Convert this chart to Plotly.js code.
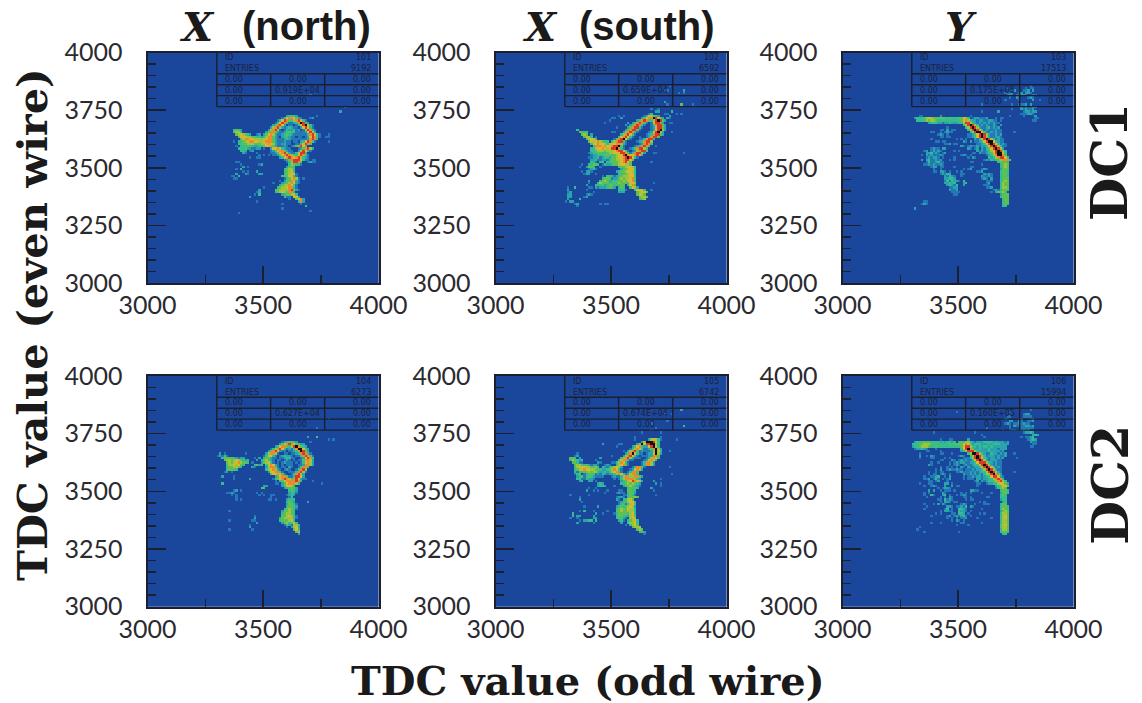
<!DOCTYPE html>
<html><head><meta charset="utf-8">
<script src="https://cdn.plot.ly/plotly-3.0.1.min.js"></script>
<style>html,body{margin:0;padding:0;background:#fff}#c{width:1142px;height:703px}</style>
</head><body><div id="c"></div>
<script>
// Histogram bins: "row col levels" (row counted from top, 10 TDC per bin)
const h101 = [
"18 70 1","23 85 1","25 83 2","27 60 23432","27 73 1",
"28 58 136776421","28 70 12",
"29 56 1368743578631",
"30 55 136873112379842",
"31 54 247862011013689631",
"32 53 2578521232110268631",
"33 37 3432","33 52 257851013223120158731",
"34 37 4553","34 51 2477421123433111126852",
"35 38 4565432","35 47 12","35 50 2467521123432111111378631","35 78 1",
"36 39 46665544332","36 50 3577421023321101101268731","36 77 11",
"37 40 46776655555677421112321111111278730",
"38 37 1","38 39 3345677665567774211121101102368731","38 78 1",
"39 39 33445554445567652112211001136874",
"40 38 1033343322334667421112101247863",
"41 39 33342211220 1","41 53 2667632110001247852",
"42 40 332012","42 53 124677421100258631",
"43 41 21","43 47 1","43 53 1124678521136883",
"44 48 1010101","44 55 124678754368731",
"45 44 1","45 47 11","45 57 2367876785321",
"46 59 12478886311","46 71 11",
"47 38 11","47 60 1358874","47 69 1211",
"48 40 1","48 48 12","48 61 354331",
"49 41 201","49 60 2443",
"50 38 1","50 40 3","50 59 34553",
"51 41 101","51 47 2","51 59 34563",
"52 38 2","52 42 21","52 48 22","52 59 345661",
"53 36 11","53 39 3","53 58 3446631",
"54 37 11","54 59 1346751","54 67 1",
"55 57 1","55 59 2447621",
"56 54 1","56 58 23457621",
"57 57 24557641",
"58 50 1","58 56 345567731",
"59 48 2","59 55 44555578421",
"60 47 12","60 55 345654773",
"61 46 1","61 48 3","61 58 2344563",
"62 44 2","62 59 3110662",
"63 61 1","63 64 4672",
"64 47 1","64 65 372",
"65 58 1","65 66 1",
"66 68 3","67 58 1","68 70 1","69 39 1"
];
const h102 = [
"14 75 1","16 73 11","16 81 2",
"17 79 101",
"21 73 2","22 80 4","22 74 1","22 85 1",
"24 67 1","24 70 1",
"25 69 22","25 76 3",
"26 66 13","26 73 11","26 78 1","26 80 1",
"27 53 1","27 55 1","27 64 1 3 6 5 4 3 2","27 75 2",
"28 50 11","28 54 2","28 63 2 4 6 7 7 9 8 6 4 2","28 74 21",
"29 49 1","29 61 2 4 7 8 7 4 3 5 8 9 8 4 2",
"30 47 1","30 57 2","30 59 2 4 7 8 7 4 1 0 1 6 8 8 4 2","30 75 11",
"31 56 2","31 58 2 4 7 8 7 3 1 0 0 1 3 7 8 8 4 2",
"32 52 1","32 57 2 4 7 8 8 3 1 0 0 0 1 2 6 8 8 4 2",
"33 35 3","33 56 2 4 7 8 8 4 1 0 0 0 0 1 2 6 8 9 5 2",
"34 36 4434","34 50 11","34 55 2 5 7 8 7 3 1 0 0 0 0 1 2 6 8 9 5 2","34 76 1",
"35 37 454","35 41 2","35 54 3 5 7 8 6 3 1 0 0 0 0 1 2 3 7 8 8 4 2",
"36 38 4553","36 43 1","36 53 3 6 7 8 6 3 1 0 0 1 0 0 1 2 7 8 8 4",
"37 39 45664","37 51 1 4 7 8 9 6 3 1 0 0 0 1 1 3 7 8 8 3",
"38 40 465675433","38 50 3 5 7 8 8 4 1 0 0 0 0 1 2 3 7 8 8 5",
"39 41 3667665","39 48 3 5 6 6 7 7 5 2 1 0 0 0 0 0 1 2 7 8 7 3",
"40 42 37776766","40 50 7 8 8 9 4 1 0 0 0 0 1 2 3 7 8 7 4","40 69 1",
"41 41 3 3 5 6 6 7 6 5 6 8 8 9 7 3 1 0 0 1 2 4 7 8 8 5 3",
"42 41 3 3 4 5 5 5 4 5 5 5 6 7 8 8 6 4 1 0 1 2 5 7 8 8 4",
"43 40 1 2 3 3 4 4 3 3 4 5 5 6 6 6 8 8 7 4 1 3 7 8 8 5 2","43 68 11","43 81 1",
"44 41 1 2 2 3 3 3 4 4 4 3 4 5 6 6 8 9 7 6 6 7 8 6 3",
"45 40 1 1 2 2 3 1 2 3 3 2 4 4 5 6 6 7 8 9 8 6 3 1",
"46 41 2 2 3 1 1 2 2 1 3 4 4 5 5 6 7 8 8 6 4",
"47 41 3 3 1 0 3 3 0 3 3 4 4 4 5 6 7 8 6 4","47 67 1",
"48 37 1","48 40 3 3 4 4 3 0 1 3 2 2 3 4 4 5 6 6 5 5 4",
"49 36 1","49 39 2 4 4 3 0 0 1","49 53 3 4 4 5 6 6 5 3",
"50 40 1 2 3 1","50 54 2 4 4 5 6 6 3",
"51 37 1","51 39 2 2 1","51 52 2 3 4 4 5 6 6 5 3",
"52 38 1 2 2 0 0 1","52 53 3 3 4 4 5 6 6 3",
"53 46 1","53 48 3 3 3 1 2 3 4 5 5 5 6 6 3",
"54 46 3 4 4 4 1 2 2 4 5 4 5 5 6 7 4",
"55 40 2","55 45 3 4 5 4 2 3 3 4 4 4 5 4 6 6 7 3",
"56 40 1","56 44 3 5 4 4 4 3 3 4 3 5 4 4 4 3 6 6 5","56 68 1",
"57 39 2","57 43 3 3 3 4 2 3 4 4 3 4 3 4 4 0 3 6 7 4",
"58 31 1","58 34 3","58 40 1 1","58 43 2 1 2 2 2 3 4 4 2 0 3 4 3 0 0 4 6 5 2",
"59 31 2","59 39 1","59 53 3 3 3 1 0 0 0 3 6 6 6 3","59 67 1",
"60 31 1 2","60 42 1","60 53 2 2 2 0 0 0 0 0 4 5 6 6 4",
"61 31 2 2","61 39 1 2 1","61 61 4 6 5 4",
"62 31 2 2","62 38 1 2","62 62 4 5 5 4",
"63 31 2","63 36 3","63 62 3 4 5",
"64 30 1 0 2 2",
"65 35 2","65 45 1 0 1","65 48 1","65 34 1",
"66 35 1"
];
const h103 = [
"14 81 1","15 71 1","15 79 1","15 81 11",
"16 74 2","16 78 112","16 82 2",
"17 70 1 1 1 2","17 76 1 2","17 79 2 2 1",
"18 71 1 2 1","18 75 1 1 2 2 1","18 82 1 1",
"19 72 1","19 75 2 1","19 80 1 2 1",
"20 70 1","20 76 1","20 82 2","20 85 1",
"22 60 1","22 73 1","22 76 1 1 1 2","22 81 2",
"23 77 2 1 2 1 1 2 2",
"24 73 1","24 77 2 1 2 1 1 2",
"25 78 1 2 2 1 2 2","25 60 1","25 67 2",
"26 77 1 1 1 2 2 1",
"27 33 1 1","27 42 2","27 55 1","27 72 1","27 78 1","27 83 2",
"28 31 233345654444443433344 6 5 3","28 56 1 2 2 1 1 1 2","28 66 1","28 68 1 1","28 83 1 1",
"29 32 3333 5 4 5 5 4 3 3 3 3 3 3 3 3 3 3 4 6 7 5 3 2 2 1 2 2 1 1 2 2 1 1 0 1","29 82 1 1",
"30 37 2 3 3 3 2 2 1 2 2 3 2 2 2 3 3 5 8 8 5 3 2 1 2 1 2 1 2 1 2 1 1",
"31 52 3 5 8 9 8 5 3 1 2 1 2 1 1 2 1 0 2",
"32 45 1","32 53 3 5 8 9 8 5 2 1 1 2 3 1 2 1 2",
"33 42 1 1 0 2 0 1 1","33 54 3 5 8 9 8 6 3 1 2 1 1 1 2 1 1",
"34 38 1 1","34 42 1 0 1 2 1 1","34 55 3 5 8 9 9 6 3 1 1 2 1 2 1 1","34 74 1",
"35 41 1 2 1 0 1","35 54 1 1 2 3 6 8 9 8 5 2 1 1 2 1 2",
"36 42 1 1 0 1 1","36 54 1 1 2 3 6 8 9 8 5 2 1 1 2 2 1",
"37 38 1","37 49 1 0 1 0 1","37 57 2 1 3 6 8 9 8 5 3 1 2 1 1",
"38 40 1 1 0 1 1","38 52 2 1 0 2 0 1 1 2 3 6 8 9 9 6 3 2 1 1",
"39 44 1 1 2 0 1 1","39 58 1 1 2 3 6 8 9 8 6 3 1 2 1",
"40 51 2 1 0 1 2 1 1 2 1 2 2 3 6 8 9 8 5 3 1 1",
"41 38 1 2 1 1 0 2 2","41 54 2 1 0 1 2 0 2 1 3 4 6 8 9 8 5 2",
"42 35 1 2 0 1 2 1 2 1","42 48 1 0 1","42 58 2 1 2 1 2 3 5 6 8 9 8 5 3",
"43 36 2 2 3 1 2 1 0 1 2","43 56 1 1 0 2 1 1 2 3 4 6 8 9 9 6 3",
"44 34 1 0 2 1 2 1 1 1 2 1","44 51 1 2 1 0 1","44 62 1 2 3 5 7 9 9 7 4",
"45 36 1 2 1 2 2 1 0 1","45 48 1","45 54 1 0 2 1","45 63 3 2 3 5 7 8 8 6 3",
"46 34 2 0 2 3 1 1 2 1 2","46 46 1 0 1","46 61 1 2 1 3 2 3 4 5 7 7 7 4",
"47 36 1 3 1 1 2 3 1 1","47 55 1 1","47 67 3 4 4 4 3",
"48 35 1 1 2 1 2 1 1 2 1","48 60 1","48 68 3 4 5 4",
"49 38 1 2 2 0 1 1","49 48 1","49 55 1 1","49 68 3 4 5 4",
"50 39 1","50 42 1","50 52 1 0 1 2","50 60 1 2 1","50 68 2 4 4 4",
"51 39 1 1 0 2 2 1 0 1","51 49 1 0 1","51 58 1 1 2","51 68 3 4 4 3",
"52 42 1 2 1 3 2","52 51 1 1","52 61 2 1 2 1","52 68 3 4 4 3",
"53 44 2 1 3 2 1","53 51 1","53 60 2 1 1 2 1","53 68 3 4 4 3",
"54 44 2 2 3 3 2","54 60 1 2 1 0 2","54 68 3 4 4 4",
"55 44 1 3 1 3 2 2 1","55 52 3","55 62 1 1 1","55 68 3 4 5 4",
"56 44 2 2 3 2 3","56 52 2 3","56 62 1 2","56 68 3 5 4 4",
"57 45 2 3 2 1 3","57 52 2","57 61 1 1 1","57 68 3 5 4 4",
"58 46 1 1 2 2","58 62 1 1 2","58 68 3 5 5 4",
"59 46 2 1 1 2","59 65 1 2 1 3 4 4 4",
"60 47 1 1 1 1","60 64 1 0 2 4 4 5 3",
"61 48 1 1","61 68 2 4 4 4",
"62 68 3 4 4 4",
"63 69 3 4 4",
"64 35 1 1","64 69 3 4 4",
"65 34 1 2 1","65 69 3 4 3",
"66 69 3 3",
"67 31 2"
];
const h104 = [
"18 78 1","22 73 1","26 73 4","26 69 2","27 78 1 0 1",
"28 58 1 2 3 4 4 3 2","28 70 1",
"29 57 2 4 6 7 8 7 6 4 3 2 2",
"30 55 2 3 6 7 7 4 3 5 8 9 7 4 3 2",
"31 53 1 3 5 7 8 6 3 1 2 1 3 7 9 9 6 3 2",
"32 52 2 4 7 8 6 2 1 1 0 1 1 2 3 7 9 8 4 2",
"33 31 2 0 1","33 42 1","33 51 2 5 7 7 5 1 0 0 1 1 0 1 1 2 3 7 8 7 3 1",
"34 30 1 2 1 3 1","34 50 1 3 6 6 3 1 0 1 2 3 2 2 1 0 1 1 3 7 8 7 4 1",
"35 32 3 4 4 4 4 3 2 1 2 2","35 46 1","35 48 2","35 50 3 4 4 2 1 1 0 1 1 2 3 3 1 1 0 0 1 2 6 8 7 3",
"36 33 4 5 5 4 5 6 5 4 3 2 3","36 47 2","36 49 3 4 5 3 2 1 0 1 1 0 1 2 1 0 1 0 1 1 4 7 7 5 2",
"37 34 4 5 4 5 6 7 5 4 4 3","37 45 1","37 49 2 4 5 6 3 1 0 1 0 1 2 1 1 1 0 1 0 1 3 6 7 5 2",
"38 34 3 5 5 6 5 6 4 3","38 46 3 4 2 3","38 51 3 6 7 6 2 1 0 1 0 1 1 1 0 0 1 1 2 7 7 5 2",
"39 34 3 4 4 5 5 4 3","39 45 2 1","39 51 2 5 7 7 4 1 0 1 1 0 2 1 0 0 1 3 7 7 4",
"40 34 3 4 4 4 3","40 51 3 5 6 7 5 2 1 0 1 2 1 0 0 1 3 7 8 5",
"41 33 1 2 0 1","41 52 2 6 6 7 7 3 1 0 0 1 1 1 3 7 8 5 1",
"42 53 4 6 6 7 6 4 1 0 0 1 3 7 8 5 2",
"43 32 2","43 37 1","43 55 2 4 6 7 7 4 1 1 3 8 8 6 2",
"44 37 1","44 44 2","44 54 1 3 4 6 7 8 7 5 4 7 8 6 2 1 1",
"45 55 1 0 3 4 6 7 7 7 7 8 7 3","45 71 1",
"46 32 3","46 55 1 1 0 2 4 6 7 7 7 5 3","46 75 1",
"47 50 2 2 0 0 0 0 0 0 2 4 6 6 5 3",
"48 49 4 4","48 59 2 3 4 4 4 2",
"49 37 1 2","49 40 1","49 61 3 4 3 2",
"50 34 1 1 2 1","50 47 1 0 1","50 61 2 3 3 1",
"51 36 1","51 38 1","51 48 1","51 50 1","51 53 1 1","51 60 1 2 3 2",
"52 38 1","52 53 1","52 61 1 3",
"53 38 1","53 40 1","53 52 1 1","53 55 1","53 60 2 3 3 3",
"54 60 3 4 3 2","54 69 2",
"55 60 2 4 4 3 1",
"56 60 3 4 4 3 2",
"57 59 3 4 5 4 3 1",
"58 35 1","58 58 2 4 4 5 4 3",
"59 58 3 4 5 5 4 3",
"60 46 1","60 58 4 4 5 6 5 3 1",
"61 46 2","61 57 2 4 5 5 5 5 3 1",
"62 35 1","62 45 1 1","62 57 3 4 4 4 5 6 3",
"63 47 2","63 58 2 4 5 3 4 6 3",
"64 44 1","64 59 1 3 2 1 5 5 3",
"65 44 2","65 60 1 0 2 5 6 2",
"66 35 1","66 45 1","66 63 4 6 3",
"67 64 4 5",
"68 65 2"
];
const h105 = [
"14 80 2","16 76 1","16 73 1","19 74 1","20 67 1","21 81 3","22 69 1",
"23 67 1","24 63 1","24 71 1","26 71 1","26 60 1",
"27 60 1","27 66 2 5 6 5 3 1","27 78 1",
"28 63 2 5 9 9 9 8 6 3",
"29 46 2","29 53 1 1","29 61 2 5 9 6 8 8 9 9 5 3",
"30 52 1","30 59 2 4 6 7 3 2 2 6 8 9 6 3",
"31 58 1 3 5 7 6 3 1 1 2 4 7 9 5 2",
"32 55 1","32 57 2 5 7 8 4 1 2 1 1 1 2 5 9 6 3","32 75 1",
"33 35 1","33 56 2 4 7 9 6 3 1 1 0 1 2 2 6 9 5 2",
"34 34 1 2","34 50 1","34 55 2 5 7 8 6 3 1 0 1 1 1 2 2 7 7 4",
"35 32 4 4 3","35 36 2","35 45 2","35 54 3 5 7 8 5 2 1 1 1 0 0 1 2 5 7 6 4",
"36 32 3 5 4 3 2 3","36 43 1","36 53 3 6 7 7 3 1 1 0 0 0 0 1 2 6 7 6 3",
"37 33 4 4 3 1 1","37 44 2 1","37 50 1 1 3 5 7 6 3 1 0 0 0 0 0 1 3 7 7 5 2",
"38 34 4 5 5 4 3 4 2 1 2 2 1","38 47 1 2 1","38 52 3 5 6 7 4 1 0 0 0 0 0 1 3 7 7 5 2",
"39 34 3 5 6 6 6 5 5 4 4 5 3","39 46 3 2 1 3 4 5 6 5 2 0 0 0 0 1 3 7 7 4 1","39 75 1",
"40 34 3 4 5 6 7 6 6 5 5 4 4 3 2 2 3 4 5 7 6 3 1 0 0 0 1 2 6 7 5 2",
"41 34 3 1 3 3 4 4 5 4 5 5 3 2 2 3 2 3 5 6 7 4 1 0 0 1 3 7 7 4",
"42 34 1 3 4 0 1 3 3 4 3 1 2 1 3 2 1 2 2 3 5 7 6 3 1 2 5 7 7 3","42 76 1",
"43 35 2 3 4 1 3 4 3 2 1 1 1 1","43 50 1 2 1 1 3 5 7 7 5 5 7 7 4 2",
"44 35 3 3 1 1 3 2 2 1","44 51 1 0 1 3 5 7 7 7 7 5 3 2","44 71 1",
"45 36 2 3 0 0 2 2 0 1","45 54 2 3 4 5 6 8 7 6 5 2","45 68 2",
"46 44 2 3 2","46 54 3 3 4 5 4 5 4 3 2","46 69 2","46 71 1",
"47 44 2 3 3 2","47 51 1","47 55 2 4 4 5 4 3 2 1","47 71 1",
"48 40 1","48 43 1","48 57 3 4 3 4 3","48 67 2",
"49 39 2","49 42 1","49 44 1","49 48 1","49 53 1 1","49 57 4 4 3 3","49 68 1",
"50 47 1","50 52 1 2 1 1","50 57 3 4 4 2",
"51 32 1","51 40 1","51 55 1 1 3 4 3 1","51 69 1",
"52 36 1","52 52 1 2 2 1","52 57 3 4 4 5 4",
"53 36 2","53 52 2 1 0 3 3 5 6 4",
"54 37 1","54 53 1 2 3 3 5 6 6 3",
"55 53 1 3 4 1 3 5 6 4",
"56 38 1","56 44 2","56 52 2 3 4 3 4 5 6 5 2",
"57 52 3 4 5 4 4 6 5 5 3",
"58 36 1 0 3","58 42 1","58 48 1","58 52 4 4 5 4 4 5 5 5 3",
"59 33 3","59 43 2","59 46 1","59 51 1 3 4 4 4 4 3 5 6 3",
"60 33 3 0 2 2","60 42 2","60 52 3 4 4 3 3 2 5 6 4",
"61 32 1","61 35 1","61 42 2 2","61 52 3 4 3 2 1 0 5 6 5",
"62 36 1","62 38 2 2 3 3","62 43 3","62 53 2 3 1 0 3 4 5 6 3",
"63 35 2","63 42 1","63 54 2 0 0 3 5 5 6 3",
"64 56 1 0 3 5 6 4",
"65 59 4 5 5 5",
"66 61 4 5 4",
"67 62 3 4 2",
"68 64 1"
];
const h106 = [
"14 81 1","15 49 1","15 72 1","16 78 1 2 2",
"17 71 1 1","17 78 1 1 1 1",
"18 70 2 1","18 76 1 2 0 0 0 1 2",
"19 72 2 2","19 76 2 1 0 0 1 1 2",
"20 70 1 2 1 0 1 1 2 1 2 1 1",
"21 72 1 0 2 1 1 1 1 2 2 1 2",
"22 62 1","22 77 1 1 1 1 1 1","22 72 1",
"23 69 1","23 72 1 2 2 1 1 2 3 2 2",
"24 39 1","24 57 1","24 78 1 2 2 3 2",
"25 82 2 3 2","25 60 1",
"26 61 1","26 77 1 0 1 1 2 3",
"27 80 1 2 3 2","27 42 1","27 46 1 1","27 54 2",
"28 31 2 3 3 3 4 4 4 3 3 3 3 2 3 2 3 3 2 3","28 50 3 4 3 5 5 3 2 1 2 2 2 3 3 3 3 2 3 2 2 2 1 2","28 81 2 1 1",
"29 30 3 3 3 4 4 5 5 5 4 3 3 3 3 3 3 3 4 3 4 4 4 4 6 7 6 3 2 3 3 3 2 2 2 3 2 3 3 3 2 2 2 2","29 82 1 1",
"30 30 2 3 3 4 5 5 5 4 3 3 4 3 3 3 3 3 3 3 3 3 3 4 6 8 8 5 3 3 2 3 2 3 3 2 3 2 2 2 2 2 2","30 81 1 1",
"31 31 1 2 2 3 2 1 0 0 0 1","31 51 3 6 8 9 7 4 2 2 3 2 2 2 3 2 2 2 1 2 2 2",
"32 36 1 1","32 42 1","32 51 2 3 5 8 8 8 5 3 2 2 2 2 3 2 2 2 2 1 2",
"33 33 1","33 42 1 1","33 47 1","33 54 3 5 9 9 8 5 3 2 1 1 3 2 2 1 2 1 2","33 74 1",
"34 33 2","34 36 1 0 2 1","34 50 1 2 1","34 55 3 5 8 9 8 5 3 1 2 2 2 1 2 1 1 2",
"35 33 1","35 38 1 1","35 44 1","35 46 1","35 52 1 1 1 3 5 8 9 8 6 3 2 1 2 2 1 2 1 2","35 75 1",
"36 42 1 1","36 47 2 1 0 1 2 1 2 1 1 3 6 8 9 8 5 2 1 2 2 2 1 1",
"37 38 1","37 41 1","37 46 1","37 48 1 2 1 2 2 1 1 2 2 3 6 8 8 8 5 3 2 1 2 1 1",
"38 37 2 1","38 46 1 0 1 2 1 0 1 2 1 1 2 3 3 6 8 9 8 5 2 1 2 1 1",
"39 42 1 0 0 1 0 1 0 1 0 2 1 0 2 1 1 2 2 3 6 8 9 8 6 3 1 2 1",
"40 40 1 0 2 0 0 1 2 1 1 2 1 1 0 1 1 1 2 1 2 2 3 5 8 9 8 5 2 1 1",
"41 37 1 0 0 1 0 1 1","41 49 1 1 2 1 1 1 2 1 2 1 2 3 3 5 8 9 8 6 2 1","41 74 1",
"42 37 1 0 1 1 0 1 2 1 0 1","42 52 2 1 1 2 1 2 1 2 1 3 5 5 8 9 7 4 2",
"43 35 1","43 38 1 1 2 3 0 0 1 0 2","43 52 1","43 54 1 1 2 1 2 2 1 2 3 3 6 8 8 6 2 1",
"44 35 1 1 2 0 1 3 1 0 1 0 1 2","44 52 1 0 1 1 1 0 2 2 1 2 2 3 3 5 7 8 7 3",
"45 37 1 1 0 1 2 0 0 0 1","45 57 1 2 0 2 1 2 3 3 4 5 7 8 5 3",
"46 33 1","46 37 1 1","46 44 2 2 0 1","46 58 1 1 0 0 1 2 2 3 3 5 6 6 4 2",
"47 35 1","47 38 1 2 1","47 44 2 0 0 2 0 1 1","47 58 1","47 66 2 3 4 6 6 4",
"48 41 1 0 1 2 2 1","48 66 1 3 4 5 4",
"49 37 2 0 2","49 42 1 0 1 1 1 0 1","49 55 2 2 1 1","49 68 3 4 4 3",
"50 35 1 0 1","50 43 2 1","50 51 1 0 1 0 1","50 60 1","50 64 1","50 68 2 4 4 3",
"51 35 1","51 38 3 1","51 43 2 3 0 1","51 49 1 0 1 2 1","51 68 3 4 3",
"52 36 1","52 42 1 0 1 0 2 1","52 52 1 1 0 1","52 62 1 1","52 68 3 3 3",
"53 41 1 1 0 3 1 2 1","53 53 1 0 1 1","53 68 2 3 3",
"54 42 1 0 2 2 1 0 1 1","54 59 1 0 1","54 69 2 3",
"55 35 1","55 39 1 0 2 0 2 1","55 51 1 2 1","55 57 1","55 61 1 1 1","55 68 3 4 4",
"56 36 1","56 45 2 2 1 0 1 1","56 51 2 1 3 0 2 1","56 68 3 4 4 3",
"57 35 1","57 44 1 3 0 1","57 50 3 3 2 1","57 60 1","57 68 3 5 4 3",
"58 42 1 0 2 2 1 1","58 50 3 2 2 1 0 1","58 68 2 4 5 4",
"59 40 1 0 1","59 47 1 1 0 3 3 2 0 1","59 59 1 0 1","59 68 3 5 5 4",
"60 38 1","60 45 1 2 0 1 2 1 2 3 1 0 1","60 68 3 5 6 4",
"61 45 1 0 1 0 1 0 1 1 2","61 58 1","61 64 1","61 68 3 5 6 4",
"62 47 1 0 2 1 0 1","62 68 3 5 5 4",
"63 38 1","63 42 1","63 51 1 1","63 60 1","63 68 3 5 5 4",
"64 49 1","64 54 1","64 68 4 5 6 4",
"65 33 1","65 68 4 5 5 4",
"66 32 1","66 68 3 5 5 4",
"67 35 1","67 50 1","67 68 3 4 4 3",
"68 69 3 3"
];

const panelBins = [h101, h102, h103, h104, h105, h106];
const histIds = ["101","102","103","104","105","106"];
const histEntries = ["9192","6592","17513","6273","6742","15994"];
const histCentres = ["0.919E+04","0.659E+04","0.175E+05","0.627E+04","0.674E+04","0.160E+05"];
const levelColors = ["#1a469b","#2279b5","#2aa3ad","#35bd8f","#5cc052","#9bc53f","#d6b833","#e68c2c","#d8392c","#101010"];
const yTickVals = [3000,3250,3500,3750,4000];
const xTickVals = [3000,3500,4000];
const columnTitles = [["X","(north)"],["X","(south)"],["Y",""]];
const rowTitles = ["DC1","DC2"];

const W=1142,H=703;
const colPx=[[147.5,378.5],[495.5,726.5],[842.5,1073.5]];
const rowPx=[[52.5,283],[376,606.5]];
const px=x=>x/W, py=y=>1-y/H;
const ink="#1b1f2e";

const nb=100;
const xs=Array.from({length:nb},(_,i)=>3005+10*i);
const ys=Array.from({length:nb},(_,i)=>3995-10*i);
function grid(list){
  const z=ys.map(()=>xs.map(()=>0));
  list.forEach(s=>{
    const p=s.trim().split(/\s+/);
    const r=+p[0],c=+p[1];
    const digits=p.slice(2).join("");
    for(let i=0;i<digits.length;i++){
      const v=+digits[i];
      if(v&&r<nb&&c+i<nb) z[r][c+i]=Math.max(z[r][c+i],v);
    }
  });
  return z;
}
const scale=[];
levelColors.forEach((c,i)=>{scale.push([i/10,c]);scale.push([(i+1)/10,c]);});

const data=[],shapes=[],annotations=[];
const layout={width:W,height:H,margin:{l:0,r:0,t:0,b:0},paper_bgcolor:"#fff",plot_bgcolor:levelColors[0],showlegend:false};
const tickFont={family:"Lato, sans-serif",size:25,color:"#2a2a30"};

for(let i=0;i<6;i++){
  const c=i%3,r=Math.floor(i/3),n=i+1,sfx=i===0?"":String(n);
  data.push({type:"heatmap",x:xs,y:ys,z:grid(panelBins[i]),colorscale:scale,zmin:0,zmax:10,showscale:false,xaxis:"x"+sfx,yaxis:"y"+sfx,zsmooth:false});
  layout["xaxis"+sfx]={domain:[px(colPx[c][0]),px(colPx[c][1])],range:[3000,4000],anchor:"y"+sfx,
    tickmode:"array",tickvals:xTickVals,ticks:"inside",ticklen:17,tickwidth:1.5,tickcolor:ink,
    minor:{tickmode:"array",tickvals:[3250,3750],ticks:"inside",ticklen:8,tickwidth:1.5,tickcolor:ink,showgrid:false},
    showgrid:false,zeroline:false,showline:true,mirror:true,linecolor:ink,linewidth:2,tickfont:tickFont,ticklabelstandoff:-1,layer:"above traces"};
  layout["yaxis"+sfx]={domain:[py(rowPx[r][1]),py(rowPx[r][0])],range:[3000,4000],anchor:"x"+sfx,
    tickmode:"array",tickvals:yTickVals,ticks:"inside",ticklen:18,tickwidth:1.5,tickcolor:ink,
    minor:{dtick:50,ticks:"inside",ticklen:8,tickwidth:1.5,tickcolor:ink,showgrid:false},
    showgrid:false,zeroline:false,showline:true,mirror:true,linecolor:ink,linewidth:2,tickfont:tickFont,ticklabelstandoff:18,layer:"above traces"};
  const xr="x"+sfx,yr="y"+sfx;
  const ln=(x0,y0,x1,y1)=>shapes.push({type:"line",xref:xr,yref:yr,x0,y0,x1,y1,line:{color:ink,width:1.4}});
  [3908,3860,3813,3765].forEach(y=>ln(3300,y,4000,y));
  ln(3300,3765,3300,4000);
  [3533,3767].forEach(x=>ln(x,3765,x,3908));
  const txt=(x,y,t,a)=>annotations.push({xref:xr,yref:yr,x,y,text:t,showarrow:false,xanchor:a,yanchor:"middle",
    font:{family:"DejaVu Sans, sans-serif",size:8,color:"#1a2340"}});
  txt(3325,3977,"ID","left");txt(3975,3977,histIds[i],"right");
  txt(3325,3930,"ENTRIES","left");txt(3975,3930,histEntries[i],"right");
  [3884,3837,3789].forEach((y,k)=>{
    txt(3325,y,"0.00","left");
    txt(3650,y,k===1?histCentres[i]:"0.00","center");
    txt(3975,y,"0.00","right");
  });
}
layout.shapes=shapes;

const serif="DejaVu Serif, serif";
const paper=(x,y,text,font,extra)=>annotations.push(Object.assign({xref:"paper",yref:"paper",x:px(x),y:py(y),text,showarrow:false,xanchor:"center",yanchor:"middle",font},extra||{}));
const titleX=[197,540,961],titleRest=[306,647];
columnTitles.forEach((t,i)=>{
  paper(titleX[i],26,"<b><i>"+t[0]+"</i></b>",{family:serif,size:40,color:"#1a1a1a"});
  if(t[1]) paper(titleRest[i],26,"<b>"+t[1]+"</b>",{family:"Liberation Sans, sans-serif",size:40,color:"#1a1a1a"});
});
paper(32,325,"<b>TDC value (even wire)</b>",{family:serif,size:41.5,color:"#1a1a1a"},{textangle:-90});
paper(588,680,"<b>TDC value (odd wire)</b>",{family:serif,size:40,color:"#1a1a1a"});
paper(1110,162,"<b>"+rowTitles[0]+"</b>",{family:serif,size:50,color:"#1a1a1a"},{textangle:-90});
paper(1110,485,"<b>"+rowTitles[1]+"</b>",{family:serif,size:51,color:"#1a1a1a"},{textangle:-90});
layout.annotations=annotations;

Plotly.newPlot("c",data,layout,{displayModeBar:false,staticPlot:true});
</script></body></html>
